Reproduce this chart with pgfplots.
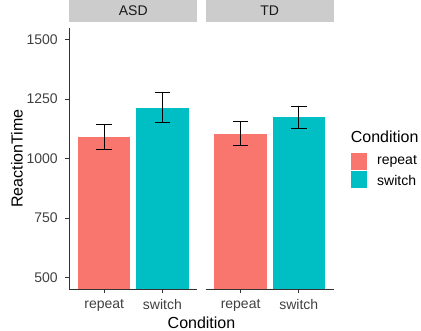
\documentclass[border=0pt]{standalone}
\usepackage{pgfplots}
\pgfplotsset{compat=1.18}
\usepackage{fontspec}
\setmainfont{Liberation Sans}
\definecolor{crep}{HTML}{F8766D}
\definecolor{csw}{HTML}{00BFC4}
\definecolor{stripgray}{HTML}{CCCCCC}
\definecolor{axgray}{HTML}{333333}
\definecolor{ticktext}{HTML}{404040}
\pgfplotsset{
 panel/.style={
  scale only axis, width=128bp, height=261.6bp,
  xmin=0.4, xmax=2.6, ymin=450, ymax=1550,
  xtick={1,2}, xticklabels={repeat,switch},
  ytick={500,750,1000,1250,1500},
  axis line style={axgray, line width=0.8bp},
  tick style={axgray, line width=0.8bp},
  tick align=outside, major tick length=4bp,
  /pgf/number format/assume math mode=true,
  /pgf/number format/1000 sep={},
  ticklabel style={font=\fontsize{14bp}{16bp}\selectfont, text=ticktext},
  xticklabel style={yshift=-3bp},
  yticklabel style={xshift=-4bp},
  title style={at={(0.5,1)}, anchor=south, fill=stripgray, minimum width=128bp,
    minimum height=21.7bp, inner sep=0pt, font=\fontsize{14bp}{16bp}\selectfont, text=black!90},
 },
 bar/.style={ybar, bar width=0.9, bar shift=0pt, fill=#1, draw=none,
   error bars/.cd, y dir=both, y explicit,
   error bar style={black, line width=0.9bp},
   error mark options={rotate=90, mark size=7.8bp, black, line width=0.9bp}},
}
\begin{document}
\begin{tikzpicture}
\useasboundingbox (0,0) rectangle (421bp,331bp);
\begin{axis}[panel, at={(69.3bp,41.7bp)}, anchor=south west,
  axis x line*=bottom, axis y line*=left, title={ASD}]
\addplot[bar=crep] coordinates {(1,1092) +- (0,52)};
\addplot[bar=csw] coordinates {(2,1213) +- (0,63.5)};
\end{axis}
\begin{axis}[panel, at={(205.7bp,41.7bp)}, anchor=south west,
  axis x line*=bottom, axis y line=none, title={TD}]
\addplot[bar=crep] coordinates {(1,1105) +- (0,50.5)};
\addplot[bar=csw] coordinates {(2,1173) +- (0,47)};
\end{axis}
\node[rotate=90, font=\fontsize{16bp}{18bp}\selectfont, inner sep=0pt] at (17bp,172.5bp) {ReactionTime};
\node[anchor=base, font=\fontsize{16bp}{18bp}\selectfont, inner sep=0pt] at (201.5bp,3bp) {Condition};
\node[anchor=west, font=\fontsize{16bp}{18bp}\selectfont, inner sep=0pt] at (350.7bp,194bp) {Condition};
\fill[crep] (351bp,161bp) rectangle (367bp,178bp);
\fill[csw] (351bp,142.5bp) rectangle (367bp,159.5bp);
\node[anchor=west, font=\fontsize{14bp}{16bp}\selectfont, inner sep=0pt] at (377bp,169.5bp) {repeat};
\node[anchor=west, font=\fontsize{14bp}{16bp}\selectfont, inner sep=0pt] at (377bp,151bp) {switch};
\end{tikzpicture}
\end{document}
